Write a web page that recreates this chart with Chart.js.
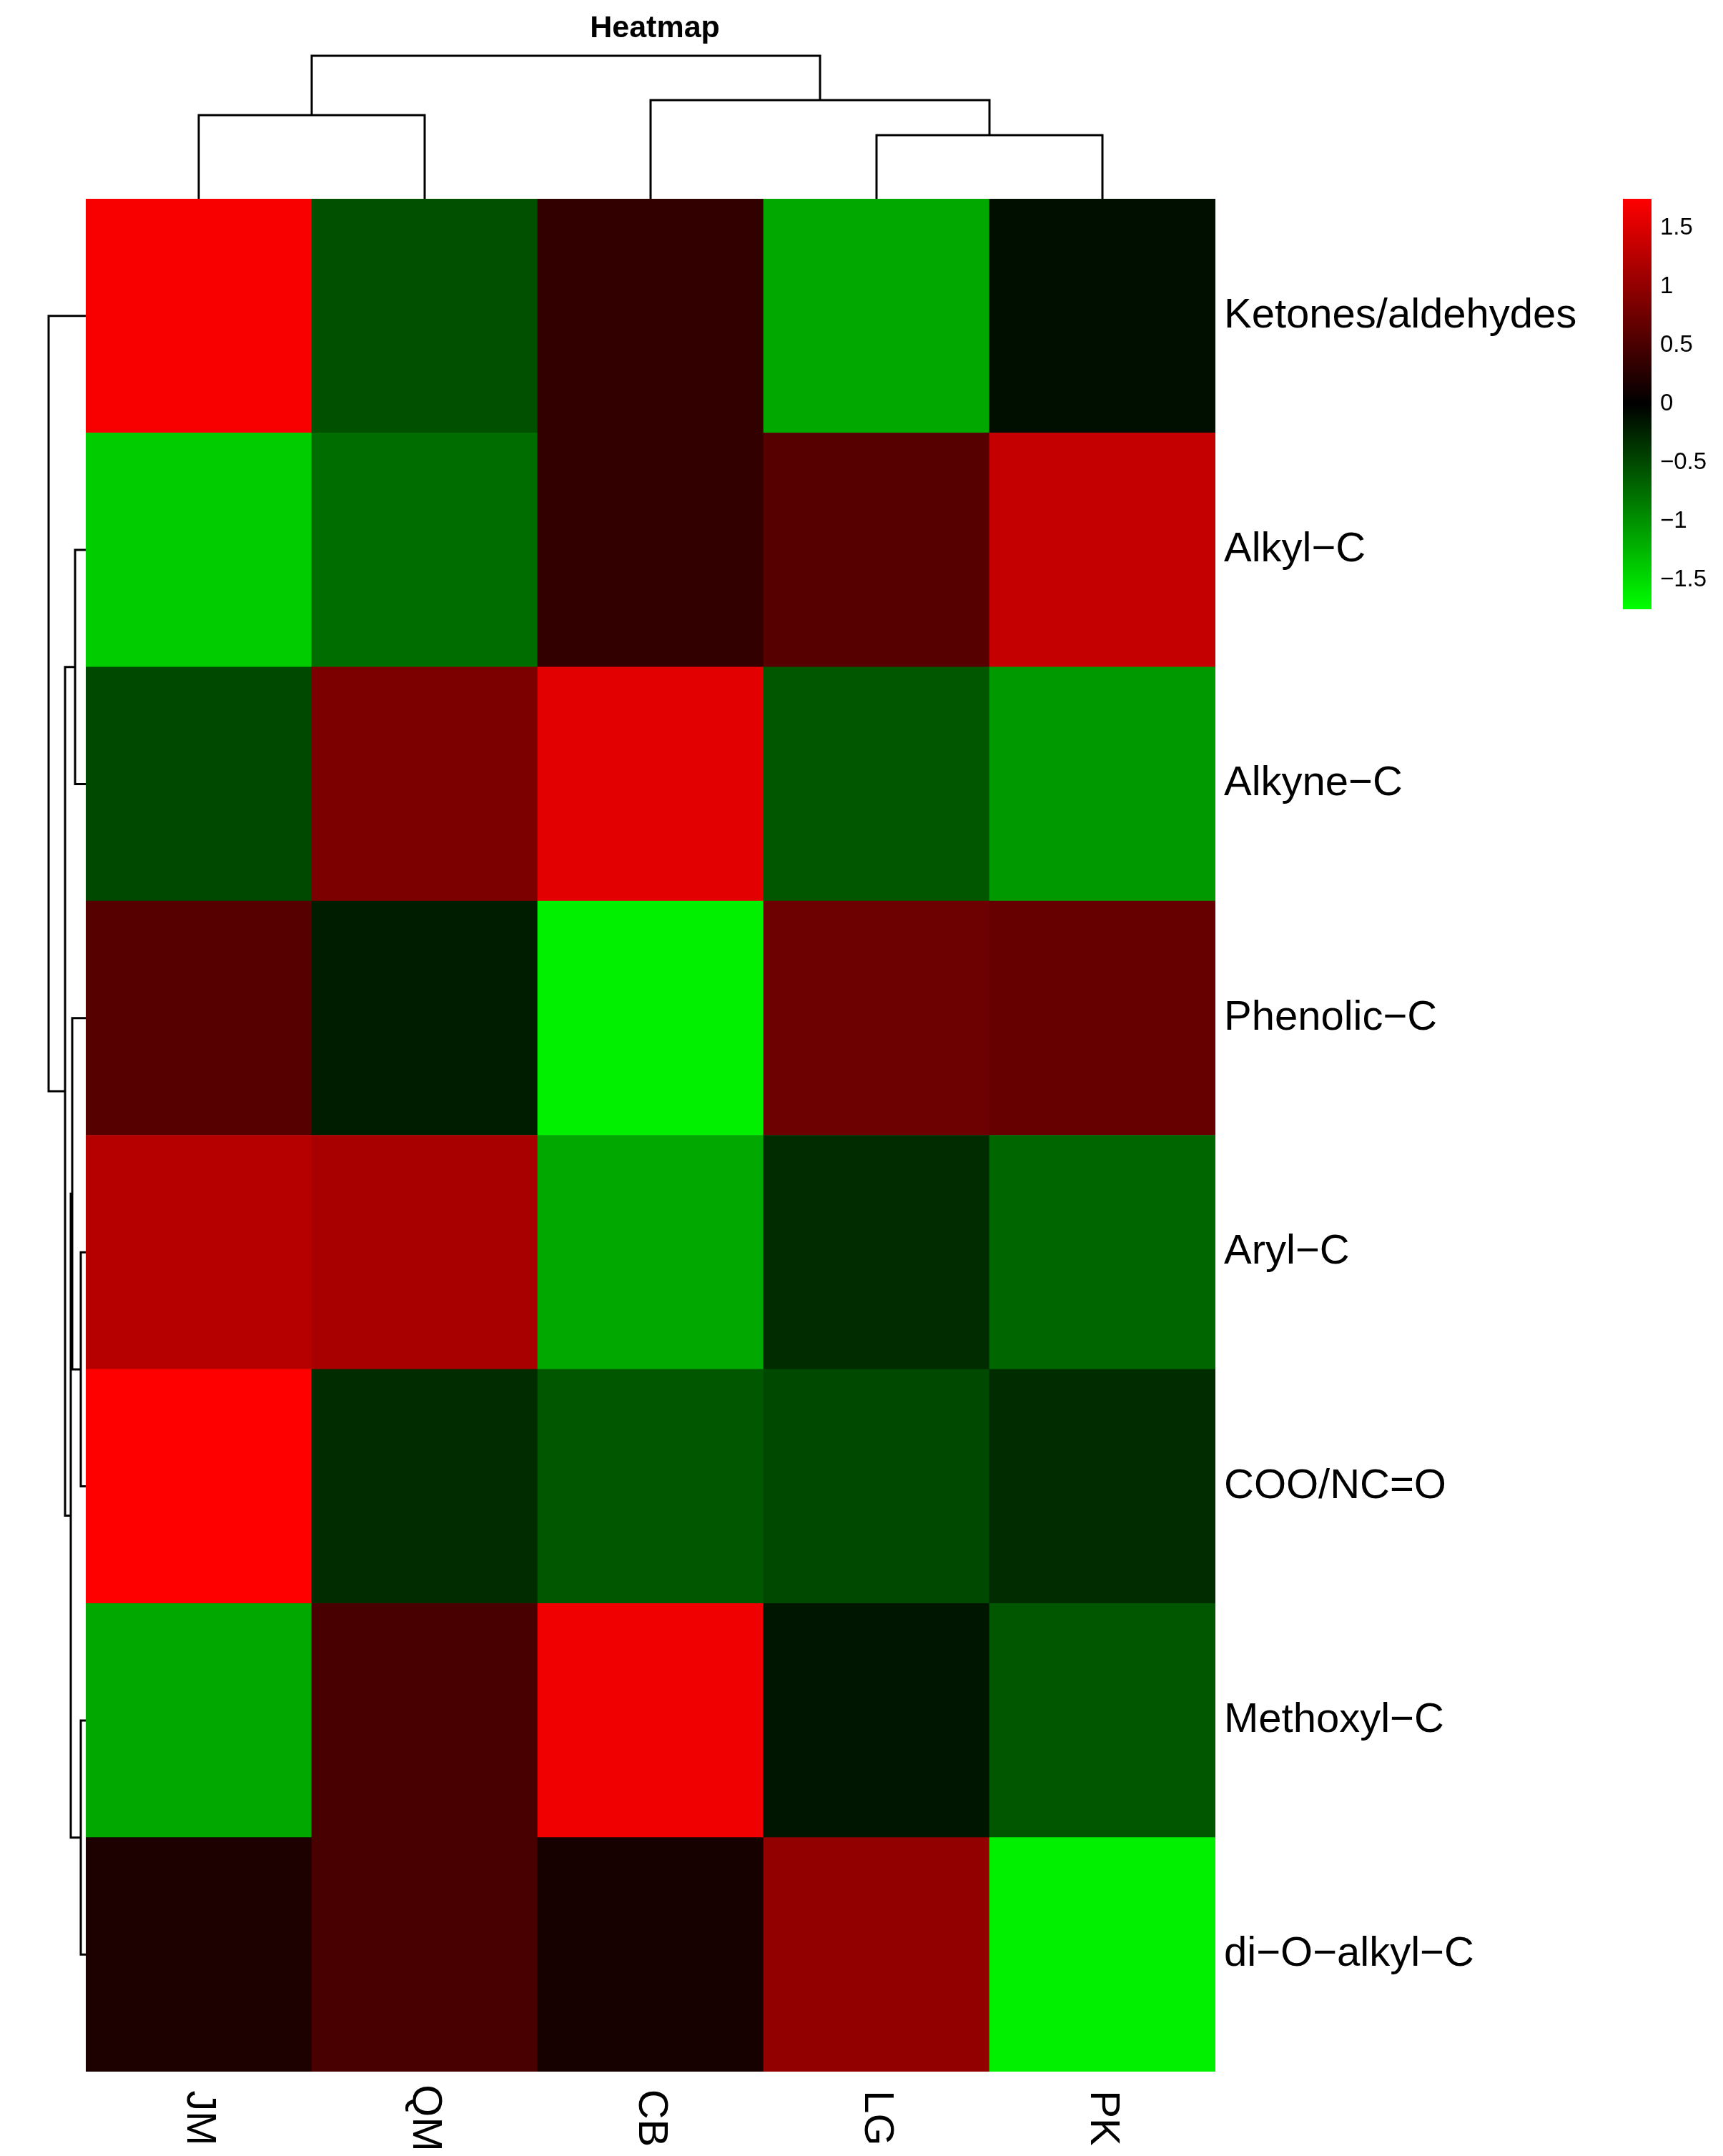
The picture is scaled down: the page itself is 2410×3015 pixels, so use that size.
<!DOCTYPE html>
<html><head><meta charset="utf-8">
<script src="https://cdn.jsdelivr.net/npm/chart.js@4"></script>
<style>html,body{margin:0;background:#fff}#wrap{width:2410px;height:3015px}</style>
</head><body><div id="wrap"><canvas id="c"></canvas></div>
<script>
// colunas e linhas (de cima para baixo)
const samples = ["JM", "QM", "CB", "LG", "PK"];
const compounds = ["Ketones/aldehydes", "Alkyl\u2212C", "Alkyne\u2212C", "Phenolic\u2212C", "Aryl\u2212C", "COO/NC=O", "Methoxyl\u2212C", "di\u2212O\u2212alkyl\u2212C"];
const ketones  = [1.70, -0.55, 0.35, -1.15, -0.10];
const alkyl    = [-1.40, -0.75, 0.35, 0.60, 1.35];
const alkyne   = [-0.50, 0.85, 1.55, -0.60, -1.05];
const phenolic = [0.60, -0.20, -1.65, 0.75, 0.70];
const aryl     = [1.25, 1.15, -1.15, -0.30, -0.70];
const coo      = [1.75, -0.30, -0.60, -0.50, -0.30];
const methoxyl = [-1.15, 0.50, 1.65, -0.15, -0.60];
const dioalkyl = [0.20, 0.50, 0.15, 1.00, -1.65];
const rows = [ketones, alkyl, alkyne, phenolic, aryl, coo, methoxyl, dioalkyl];
const legendTicks = [1.5, 1, 0.5, 0, -0.5, -1, -1.5];
const vMax = 1.75;

// dendrogramas: [a, b, altura] ; indices negativos = clusters anteriores
const colTree = [[3, 4, 89], [0, 1, 117], [2, -1, 138], [-2, -3, 200]];
const rowTree = [[4, 5, 7], [6, 7, 7], [1, 2, 15], [3, -1, 19], [-4, -2, 21], [-3, -5, 29], [0, -6, 52]];

function cor(v) {
  let t = Math.min(Math.abs(v) / vMax, 1);
  let c = Math.round(255 * t);
  return v >= 0 ? `rgb(${c},0,0)` : `rgb(0,${c},0)`;
}

// um dataset por linha, empilhado de baixo para cima
const datasets = rows.map((r, i) => ({
  label: compounds[i],
  data: r.map(() => 1),
  backgroundColor: r.map(cor),
  borderWidth: 0,
  barPercentage: 1,
  categoryPercentage: 1
})).reverse();

const extras = {
  id: 'extras',
  afterDraw(chart) {
    const ctx = chart.ctx, xs = chart.scales.x, ys = chart.scales.y, a = chart.chartArea;
    const rowY = i => ys.getPixelForValue(rows.length - i - 0.5);
    ctx.save();
    ctx.fillStyle = '#000';
    // titulo
    ctx.font = 'bold 43px "Liberation Sans", Arial';
    ctx.textAlign = 'center'; ctx.textBaseline = 'middle';
    ctx.fillText('Heatmap', 916, 40);
    // nomes das linhas
    ctx.font = '58px "Liberation Sans", Arial';
    ctx.textAlign = 'left';
    compounds.forEach((n, i) => ctx.fillText(n, a.right + 12, rowY(i)));
    // nomes das colunas, girados
    samples.forEach((s, i) => {
      ctx.save();
      ctx.translate(xs.getPixelForValue(i), a.bottom + 65);
      ctx.rotate(Math.PI / 2);
      ctx.textAlign = 'center';
      ctx.fillText(s, 0, 0);
      ctx.restore();
    });
    // dendrogramas
    ctx.strokeStyle = '#000'; ctx.lineWidth = 3;
    let cp = [], ch = [];
    colTree.forEach(([p, q, h]) => {
      const px = p >= 0 ? xs.getPixelForValue(p) : cp[-p - 1], ph = p >= 0 ? 0 : ch[-p - 1];
      const qx = q >= 0 ? xs.getPixelForValue(q) : cp[-q - 1], qh = q >= 0 ? 0 : ch[-q - 1];
      const y = a.top - h;
      ctx.beginPath();
      ctx.moveTo(px, a.top - ph); ctx.lineTo(px, y); ctx.lineTo(qx, y); ctx.lineTo(qx, a.top - qh);
      ctx.stroke();
      cp.push((px + qx) / 2); ch.push(h);
    });
    let rp = [], rh = [];
    rowTree.forEach(([p, q, h]) => {
      const py = p >= 0 ? rowY(p) : rp[-p - 1], ph = p >= 0 ? 0 : rh[-p - 1];
      const qy = q >= 0 ? rowY(q) : rp[-q - 1], qh = q >= 0 ? 0 : rh[-q - 1];
      const x = a.left - h;
      ctx.beginPath();
      ctx.moveTo(a.left - ph, py); ctx.lineTo(x, py); ctx.lineTo(x, qy); ctx.lineTo(a.left - qh, qy);
      ctx.stroke();
      rp.push((py + qy) / 2); rh.push(h);
    });
    // barra de cores
    const bx = 2270, bw = 40, bt = 278, bb = 852;
    const g = ctx.createLinearGradient(0, bt, 0, bb);
    g.addColorStop(0, 'rgb(255,0,0)'); g.addColorStop(0.5, 'rgb(0,0,0)'); g.addColorStop(1, 'rgb(0,255,0)');
    ctx.fillStyle = g; ctx.fillRect(bx, bt, bw, bb - bt);
    ctx.fillStyle = '#000'; ctx.font = '33px "Liberation Sans", Arial'; ctx.textAlign = 'left';
    legendTicks.forEach(t => {
      const y = bt + (vMax - t) / (2 * vMax) * (bb - bt);
      ctx.fillText(t < 0 ? '\u2212' + Math.abs(t) : String(t), bx + bw + 12, y);
    });
    ctx.restore();
  }
};

new Chart(document.getElementById('c'), {
  type: 'bar',
  data: { labels: samples, datasets },
  options: {
    responsive: true, maintainAspectRatio: false, animation: false,
    layout: { padding: { left: 120, top: 278, right: 710, bottom: 118 } },
    plugins: { legend: { display: false }, tooltip: { enabled: false } },
    scales: {
      x: { stacked: true, display: false, offset: true },
      y: { stacked: true, display: false, min: 0, max: rows.length }
    }
  },
  plugins: [extras]
});
</script></body></html>
